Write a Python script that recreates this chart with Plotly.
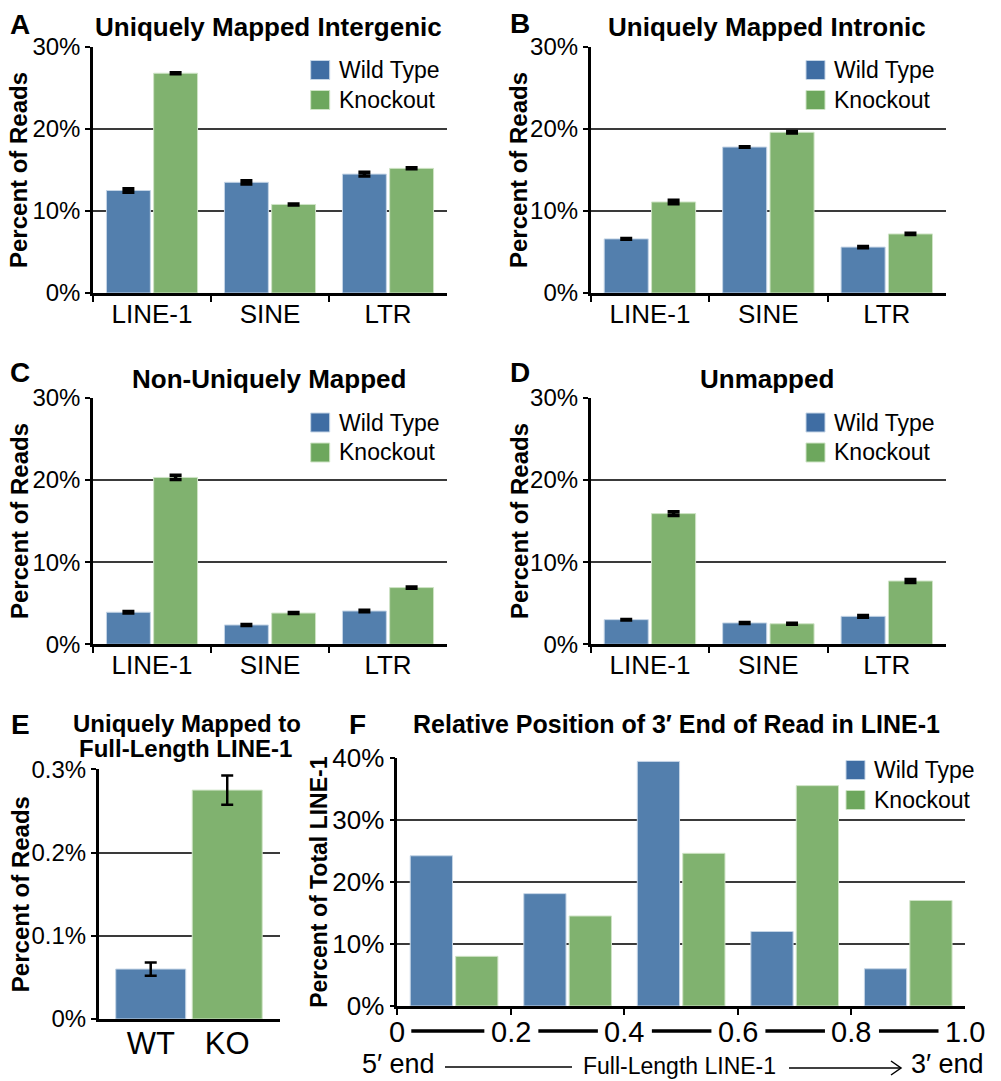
import plotly.graph_objects as go

W, H = 1001, 1081
FONT = "Liberation Sans, Arial, Helvetica, sans-serif"

# ---------------- data ----------------
categories = ["LINE-1", "SINE", "LTR"]
a_wt = [12.5, 13.5, 14.5]
a_wt_err = [0.2, 0.2, 0.22]
a_ko = [26.8, 10.8, 15.2]
a_ko_err = [0.06, 0.06, 0.06]
b_wt = [6.6, 17.8, 5.6]
b_wt_err = [0.05, 0.03, 0.08]
b_ko = [11.1, 19.6, 7.2]
b_ko_err = [0.22, 0.1, 0.08]
c_wt = [3.9, 2.35, 4.05]
c_wt_err = [0.1, 0.06, 0.08]
c_ko = [20.3, 3.8, 6.9]
c_ko_err = [0.26, 0.06, 0.08]
d_wt = [3.0, 2.6, 3.4]
d_wt_err = [0.03, 0.06, 0.1]
d_ko = [15.9, 2.5, 7.7]
d_ko_err = [0.22, 0.06, 0.18]
e_groups = ["WT", "KO"]
e_vals = [0.06, 0.275]
e_err = [0.008, 0.0175]
f_bins = ["0-0.2", "0.2-0.4", "0.4-0.6", "0.6-0.8", "0.8-1.0"]
f_wt = [24.2, 18.1, 39.4, 12.0, 6.0]
f_ko = [8.0, 14.5, 24.6, 35.5, 17.0]
f_tick_labels = ["0", "0.2", "0.4", "0.6", "0.8", "1.0"]
abcd_yticks = [0, 10, 20, 30]
abcd_yticklabels = ["0%", "10%", "20%", "30%"]
e_yticks = [0, 0.1, 0.2, 0.3]
e_yticklabels = ["0%", "0.1%", "0.2%", "0.3%"]
f_yticks = [0, 10, 20, 30, 40]
f_yticklabels = ["0%", "10%", "20%", "30%", "40%"]
series_names = ["Wild Type", "Knockout"]
titles = ["Uniquely Mapped Intergenic", "Uniquely Mapped Intronic",
          "Non-Uniquely Mapped", "Unmapped"]
panel_letters = ["A", "B", "C", "D", "E", "F"]

BLUE = "#537FAD"
GREEN = "#80B26F"
BLUE_LEG = "#3F6DA3"
GREEN_LEG = "#6DA75D"
BLUE_EDGE = "#C5D5E6"
GREEN_EDGE = "#CFE4C6"


def px(x):
    return x / W


def py(y):
    return 1 - y / H


fig = go.Figure()

# panel geometry in pixels: (x0, x1, ytop, ybottom)
geo = {
    1: (93, 447, 47, 293),
    2: (590.7, 946, 47, 293),
    3: (93, 447, 397.7, 644.3),
    4: (590.7, 946, 397.7, 644.3),
    5: (98.7, 280, 769.3, 1019),
    6: (397.3, 965, 757.7, 1006),
}

panels = [
    (a_wt, a_wt_err, a_ko, a_ko_err),
    (b_wt, b_wt_err, b_ko, b_ko_err),
    (c_wt, c_wt_err, c_ko, c_ko_err),
    (d_wt, d_wt_err, d_ko, d_ko_err),
]

for i, (wt, wte, ko, koe) in enumerate(panels, start=1):
    xa = "x" if i == 1 else f"x{i}"
    ya = "y" if i == 1 else f"y{i}"
    fig.add_trace(go.Bar(x=categories, y=wt, name=series_names[0], xaxis=xa, yaxis=ya,
                         marker=dict(color=BLUE, line=dict(color=BLUE_EDGE, width=1)),
                         error_y=dict(type="data", array=wte, color="black", thickness=3.5, width=6),
                         showlegend=False))
    fig.add_trace(go.Bar(x=categories, y=ko, name=series_names[1], xaxis=xa, yaxis=ya,
                         marker=dict(color=GREEN, line=dict(color=GREEN_EDGE, width=1)),
                         error_y=dict(type="data", array=koe, color="black", thickness=3.5, width=6),
                         showlegend=False))

# panel E
fig.add_trace(go.Bar(x=e_groups, y=e_vals, xaxis="x5", yaxis="y5", width=0.915,
                     marker=dict(color=[BLUE, GREEN], line=dict(color=[BLUE_EDGE, GREEN_EDGE], width=1)),
                     error_y=dict(type="data", array=e_err, color="black", thickness=2.5, width=6),
                     showlegend=False))

# panel F
fig.add_trace(go.Bar(x=f_bins, y=f_wt, name=series_names[0], xaxis="x6", yaxis="y6",
                     marker=dict(color=BLUE, line=dict(color=BLUE_EDGE, width=1)), showlegend=False))
fig.add_trace(go.Bar(x=f_bins, y=f_ko, name=series_names[1], xaxis="x6", yaxis="y6",
                     marker=dict(color=GREEN, line=dict(color=GREEN_EDGE, width=1)), showlegend=False))

layout = dict(
    width=W, height=H, autosize=False,
    margin=dict(l=0, r=0, t=0, b=0, pad=0),
    paper_bgcolor="white", plot_bgcolor="white",
    barmode="group", bargap=0.2, bargroupgap=0.07,
    font=dict(family=FONT, color="black"),
    showlegend=False,
)

axis_common = dict(showline=True, linecolor="black", linewidth=2.5, ticks="outside",
                   tickcolor="black", tickwidth=2, zeroline=False, fixedrange=True,
                   automargin=False)

for i in range(1, 7):
    x0, x1, yt, yb = geo[i]
    xk = "xaxis" if i == 1 else f"xaxis{i}"
    yk = "yaxis" if i == 1 else f"yaxis{i}"
    ya = "y" if i == 1 else f"y{i}"
    xa = "x" if i == 1 else f"x{i}"
    xd = dict(axis_common, domain=[px(x0), px(x1)], anchor=ya, showgrid=False, ticklen=6)
    yd = dict(axis_common, domain=[py(yb), py(yt)], anchor=xa, showgrid=True,
              gridcolor="#3a3a3a", gridwidth=1.5, ticklen=5)
    if i <= 4:
        xd.update(tickson="boundaries", tickfont=dict(size=26), range=[-0.5, 2.5],
                  ticklabelstandoff=-4)
        yd.update(range=[0, 30], tickvals=abcd_yticks, ticktext=abcd_yticklabels,
                  tickfont=dict(size=24))
    elif i == 5:
        xd.update(ticks="", tickfont=dict(size=31), range=[-0.68, 1.69],
                  ticklabelstandoff=-5)
        yd.update(range=[0, 0.3], tickvals=e_yticks, ticktext=e_yticklabels,
                  tickfont=dict(size=24))
    else:
        xd.update(tickson="boundaries", showticklabels=False, range=[-0.5, 4.5])
        yd.update(range=[0, 40], tickvals=f_yticks, ticktext=f_yticklabels,
                  tickfont=dict(size=26))
    layout[xk] = xd
    layout[yk] = yd

fig.update_layout(**layout)

annotations = []
shapes = []


def text(x, y, s, size, bold=False, xanchor="center", angle=0, yanchor="middle"):
    annotations.append(dict(
        x=px(x), y=py(y), xref="paper", yref="paper", text=f"<b>{s}</b>" if bold else s,
        showarrow=False, xanchor=xanchor, yanchor=yanchor, textangle=angle,
        font=dict(family=FONT, size=size, color="black")))


# titles
text(268.7, 27, titles[0], 26, True)
text(767, 27, titles[1], 26, True)
text(269, 379, titles[2], 26, True)
text(767, 379, titles[3], 26, True)
text(187, 723, "Uniquely Mapped to", 24, True)
text(185, 748, "Full-Length LINE-1", 24, True)
text(676, 724, "Relative Position of 3\u2032 End of Read in LINE-1", 25, True)

# panel letters
for (lx, ly), letter in zip([(20, 24), (520, 23), (20, 372), (520, 372), (20, 724), (357, 724)],
                            panel_letters):
    text(lx, ly, letter, 28, True)

# y titles
for i, xpos in [(1, 19), (2, 519), (3, 19), (4, 519), (5, 20)]:
    x0, x1, yt, yb = geo[i]
    text(xpos, (yt + yb) / 2, "Percent of Reads", 24, True, angle=-90)
text(319, (geo[6][2] + geo[6][3]) / 2, "Percent of Total LINE-1", 23, True, angle=-90)

# legends
legend_pos = [(310.7, 70), (806, 70), (310.7, 422.5), (806, 422.5), (846, 770)]
for lx, ly in legend_pos:
    for k, (nm, col) in enumerate(zip(series_names, [BLUE_LEG, GREEN_LEG])):
        cy = ly + 30 * k
        shapes.append(dict(type="rect", xref="paper", yref="paper",
                           x0=px(lx), x1=px(lx + 19), y0=py(cy + 9.5), y1=py(cy - 9.5),
                           fillcolor=col, line=dict(color=BLUE_EDGE if k == 0 else GREEN_EDGE, width=1)))
        text(lx + 26, cy, nm, 23, xanchor="left")

# top gridline of F stops before legend
shapes.append(dict(type="rect", xref="paper", yref="paper", x0=px(871), x1=px(968),
                   y0=py(760), y1=py(755), fillcolor="white", line=dict(width=0), layer="above"))

# F boundary labels and connecting thick lines
cat_px = (geo[6][1] - geo[6][0]) / len(f_bins)
half_w = [8] + [21.5] * (len(f_tick_labels) - 1)
for j, lab in enumerate(f_tick_labels):
    annotations.append(dict(x=j - 0.5, y=py(1031.7), xref="x6", yref="paper", text=lab,
                            showarrow=False, xanchor="center", yanchor="middle",
                            font=dict(family=FONT, size=29, color="black")))
for j in range(len(f_tick_labels) - 1):
    xs = j - 0.5 + (half_w[j] + 6) / cat_px
    xe = j + 0.5 - (half_w[j + 1] + 5) / cat_px
    shapes.append(dict(type="line", xref="x6", yref="paper", x0=xs, x1=xe,
                       y0=py(1031), y1=py(1031), line=dict(color="black", width=3.5)))

# bottom orientation line
text(398, 1080.5, "5\u2032 end", 27, yanchor="bottom")
text(679.5, 1080.5, "Full-Length LINE-1", 23, yanchor="bottom")
text(947, 1080.5, "3\u2032 end", 27, yanchor="bottom")
shapes.append(dict(type="line", xref="paper", yref="paper", x0=px(445), x1=px(572),
                   y0=py(1067), y1=py(1067), line=dict(color="black", width=1.5)))
shapes.append(dict(type="line", xref="paper", yref="paper", x0=px(789), x1=px(901),
                   y0=py(1068), y1=py(1068), line=dict(color="black", width=1.5)))
shapes.append(dict(type="path", xref="paper", yref="paper",
                   path=f"M {px(891)},{py(1061)} L {px(901)},{py(1068)} L {px(891)},{py(1075)}",
                   line=dict(color="black", width=1.5)))

fig.update_layout(annotations=annotations, shapes=shapes)
fig.write_html("out.html", config={"responsive": False, "displayModeBar": False},
               post_script="document.body.style.margin='0';document.body.style.overflow='hidden';")
